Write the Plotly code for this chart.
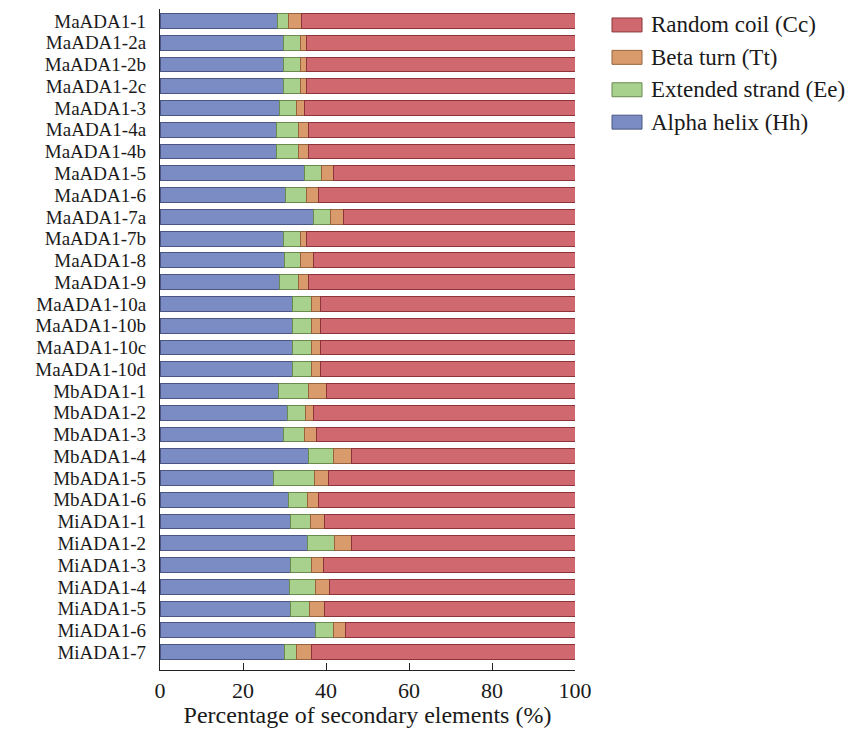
import plotly.graph_objects as go

categories = [
    "MaADA1-1", "MaADA1-2a", "MaADA1-2b", "MaADA1-2c", "MaADA1-3", "MaADA1-4a",
    "MaADA1-4b", "MaADA1-5", "MaADA1-6", "MaADA1-7a", "MaADA1-7b", "MaADA1-8",
    "MaADA1-9", "MaADA1-10a", "MaADA1-10b", "MaADA1-10c", "MaADA1-10d",
    "MbADA1-1", "MbADA1-2", "MbADA1-3", "MbADA1-4", "MbADA1-5", "MbADA1-6",
    "MiADA1-1", "MiADA1-2", "MiADA1-3", "MiADA1-4", "MiADA1-5", "MiADA1-6", "MiADA1-7",
]

alpha_helix = [28.3, 29.8, 29.8, 29.8, 28.8, 28.1, 28.1, 34.8, 30.3, 37.1, 29.8, 30.0,
               28.8, 31.9, 31.9, 31.9, 31.9, 28.6, 30.8, 29.7, 35.7, 27.4, 31.0,
               31.5, 35.6, 31.5, 31.2, 31.5, 37.5, 30.1]
extended_strand = [2.7, 4.1, 4.1, 4.1, 4.0, 5.2, 5.2, 4.2, 5.0, 4.0, 4.1, 3.9,
                   4.5, 4.6, 4.6, 4.6, 4.6, 7.1, 4.3, 5.1, 6.1, 9.9, 4.5,
                   4.7, 6.4, 5.1, 6.3, 4.5, 4.3, 2.9]
beta_turn = [3.0, 1.5, 1.5, 1.5, 2.1, 2.4, 2.4, 2.9, 2.9, 3.1, 1.5, 3.2,
             2.4, 2.1, 2.1, 2.1, 2.1, 4.5, 2.0, 3.0, 4.4, 3.4, 2.8,
             3.4, 4.1, 2.9, 3.3, 3.6, 2.8, 3.4]
random_coil = [round(100 - a - e - b, 1) for a, e, b in zip(alpha_helix, extended_strand, beta_turn)]

series = [
    ("Alpha helix (Hh)", alpha_helix, "#7b8cc4", "#4b5782"),
    ("Extended strand (Ee)", extended_strand, "#a9d18e", "#6a8a4e"),
    ("Beta turn (Tt)", beta_turn, "#d99b6c", "#96643c"),
    ("Random coil (Cc)", random_coil, "#d0696f", "#8c3439"),
]

FONT = "Liberation Serif"
W, H = 857, 732
ML, MR, MT, MB = 160, 282, 9, 60
PW, PH = W - ML - MR, H - MT - MB

fig = go.Figure()
for name, vals, fill, edge in series:
    fig.add_trace(go.Bar(
        y=categories, x=vals, name=name, orientation="h",
        marker=dict(color=fill, line=dict(color=edge, width=1)),
        width=0.68, showlegend=False,
    ))

# manual legend (wide rectangular swatches as in the reference)
def px_x(p):
    return (p - ML) / PW

def px_y(p):
    return (H - MB - p) / PH

legend_rows = list(reversed(series))
for i, (name, _vals, fill, edge) in enumerate(legend_rows):
    cy = 25 + i * 32.5
    fig.add_shape(type="rect", xref="paper", yref="paper",
                  x0=px_x(612), x1=px_x(642), y0=px_y(cy + 7), y1=px_y(cy - 7),
                  fillcolor=fill, line=dict(color=edge, width=1))
    fig.add_annotation(xref="paper", yref="paper", x=px_x(649), y=px_y(cy),
                       xanchor="left", yanchor="middle", text=name, showarrow=False,
                       font=dict(family=FONT, size=23, color="#1a1a1a"))

fig.update_layout(
    barmode="stack",
    width=W, height=H,
    margin=dict(l=ML, r=MR, t=MT, b=MB),
    plot_bgcolor="white", paper_bgcolor="white",
    font=dict(family=FONT, size=22, color="#1a1a1a"),
    showlegend=False,
)

fig.update_xaxes(
    range=[0, 100], tickvals=[0, 20, 40, 60, 80, 100],
    ticks="inside", ticklen=7, tickwidth=1.2, tickcolor="#222",
    showline=True, linecolor="#222", linewidth=1.2, mirror=False,
    showgrid=False, zeroline=False,
    title=dict(text="Percentage of secondary elements (%)", font=dict(family=FONT, size=24), standoff=4),
    tickfont=dict(family=FONT, size=22),
)
fig.update_yaxes(
    categoryorder="array", categoryarray=categories,
    tickmode="array", tickvals=categories, ticktext=categories,
    autorange=False, range=[len(categories) - 1 + 0.82, -0.55],
    showline=True, linecolor="#222", linewidth=1.2,
    ticks="", showgrid=False, zeroline=False,
    ticklabelstandoff=9,
    tickfont=dict(family=FONT, size=19),
)

fig.write_html("out.html")
